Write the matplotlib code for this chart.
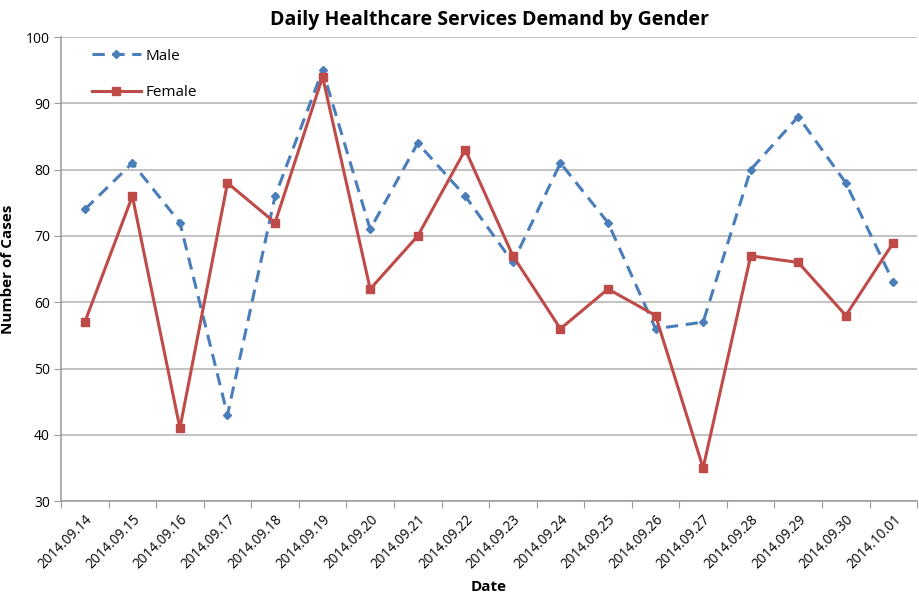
import matplotlib
matplotlib.use("Agg")
import matplotlib.pyplot as plt
import numpy as np
from matplotlib.ticker import FixedLocator, NullFormatter

dates = ["2014.09.14", "2014.09.15", "2014.09.16", "2014.09.17", "2014.09.18",
         "2014.09.19", "2014.09.20", "2014.09.21", "2014.09.22", "2014.09.23",
         "2014.09.24", "2014.09.25", "2014.09.26", "2014.09.27", "2014.09.28",
         "2014.09.29", "2014.09.30", "2014.10.01"]
male = [74, 81, 72, 43, 76, 95, 71, 84, 76, 66, 81, 72, 56, 57, 80, 88, 78, 63]
female = [57, 76, 41, 78, 72, 94, 62, 70, 83, 67, 56, 62, 58, 35, 67, 66, 58, 69]
yticks = [30, 40, 50, 60, 70, 80, 90, 100]

plt.rcParams['font.family'] = ['Open Sans', 'DejaVu Sans']

fig = plt.figure(figsize=(9.19, 5.98), dpi=100)
ax = fig.add_axes([0.0664, 0.162, 0.9316, 0.776])

x = np.arange(len(dates))
ax.plot(x, male, color='#4A7EBB', linestyle=(0, (4, 2.5)), linewidth=2.2,
        marker='D', markersize=4.5, label='Male', zorder=3)
ax.plot(x, female, color='#BE4B48', linestyle='-', linewidth=2.2,
        marker='s', markersize=6, label='Female', zorder=4)

ax.set_xlim(-0.5, len(dates) - 0.5)
ax.set_ylim(30, 100)
ax.set_yticks(yticks)
ax.yaxis.grid(True, color='#B3B3B3', linewidth=1.1)
ax.set_axisbelow(True)

ax.xaxis.set_major_locator(FixedLocator(np.arange(-0.5, len(dates), 1.0)))
ax.xaxis.set_major_formatter(NullFormatter())
ax.xaxis.set_minor_locator(FixedLocator(x))
ax.set_xticklabels(dates, minor=True, rotation=45, ha='right', va='top',
                   rotation_mode='anchor', fontsize=9.8)
ax.tick_params(axis='x', which='minor', length=0, pad=8)
ax.tick_params(axis='x', which='major', length=5, color='#999999', direction='out')
ax.tick_params(axis='y', length=5, color='#999999', labelsize=10, pad=3)

for s in ['top', 'right']:
    ax.spines[s].set_visible(False)
for s in ['left', 'bottom']:
    ax.spines[s].set_color('#999999')
    ax.spines[s].set_linewidth(1.1)

ax.set_title('Daily Healthcare Services Demand by Gender', fontsize=14,
             fontweight='bold', pad=9)
ax.set_xlabel('Date', fontsize=11, fontweight='bold', labelpad=6)
ax.set_ylabel('Number of Cases', fontsize=11, fontweight='bold', labelpad=8)

leg = ax.legend(loc='upper left', bbox_to_anchor=(0.02, 1.005), frameon=False,
                fontsize=11, handlelength=3.2, labelspacing=1.4,
                handletextpad=0.3)

fig.savefig('out.png', dpi=100)
